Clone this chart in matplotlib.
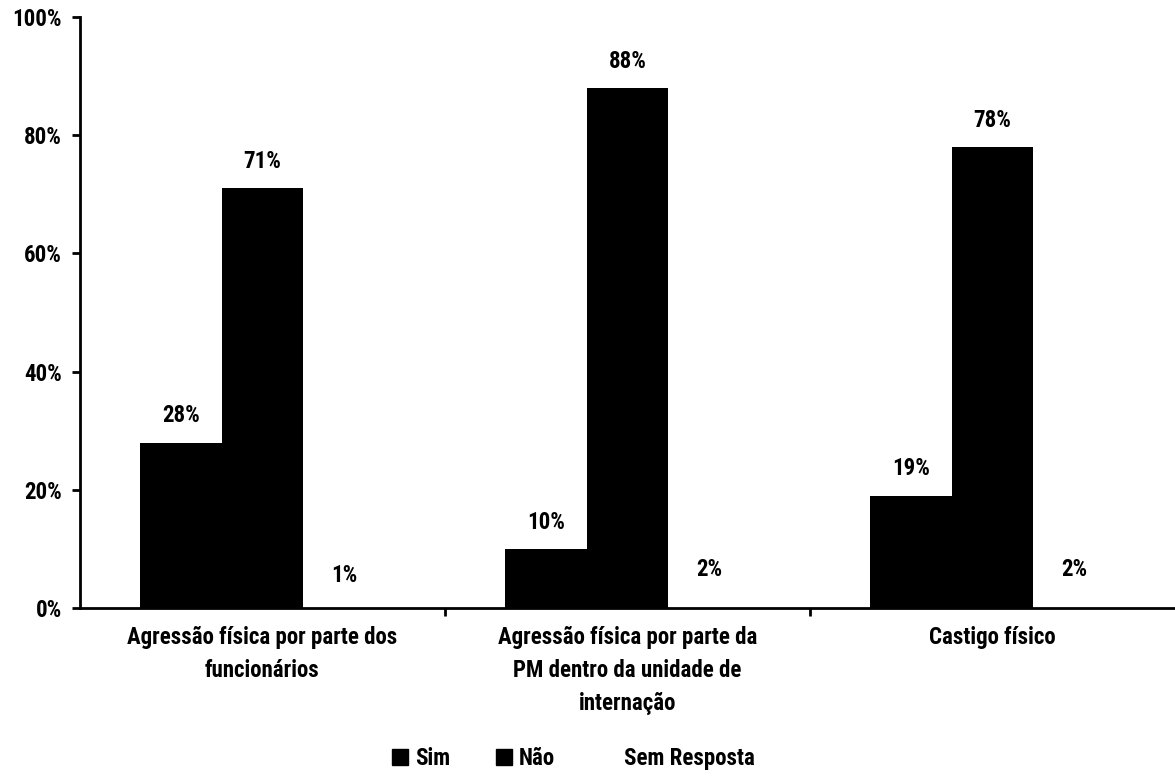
import matplotlib
matplotlib.use("Agg")
import matplotlib.pyplot as plt
from matplotlib.patches import Patch
import numpy as np

plt.rcParams['font.family'] = ['Roboto Condensed', 'DejaVu Sans']
plt.rcParams['font.weight'] = 'bold'

categories = ["Agressão física por parte dos\nfuncionários",
              "Agressão física por parte da\nPM dentro da unidade de\ninternação",
              "Castigo físico"]
series_names = ["Sim", "Não", "Sem Resposta"]
sim = [28, 10, 19]
nao = [71, 88, 78]
sem_resposta = [1, 2, 2]

fs = 16.5

fig = plt.figure(figsize=(11.75, 7.76), dpi=100)
ax = fig.add_axes([0.068, 0.2165, 0.932, 0.7615])

x = np.arange(len(categories))
w = 0.224
bars_sim = ax.bar(x - w, np.array(sim) / 100, w, color="black", label="Sim")
bars_nao = ax.bar(x, np.array(nao) / 100, w, color="black", label="Não")
bars_sem = ax.bar(x + w, np.array(sem_resposta) / 100, w, color="white", label="Sem Resposta")

for bars, vals in [(bars_sim, sim), (bars_nao, nao), (bars_sem, sem_resposta)]:
    for p, v in zip(bars.patches, vals):
        ax.annotate(f"{v}%", (p.get_x() + p.get_width() / 2, p.get_height()),
                    xytext=(0, 11), textcoords="offset points",
                    ha="center", va="bottom", fontsize=fs, fontweight="bold")

ax.set_xlim(-0.5, 2.5)
ax.set_ylim(0, 1)
ax.set_yticks([0, 0.2, 0.4, 0.6, 0.8, 1.0])
ax.set_yticklabels(["0%", "20%", "40%", "60%", "80%", "100%"], fontsize=fs, fontweight="bold")
ax.set_xticks([0.5, 1.5])
ax.set_xticklabels([])
ax.set_xticks(x, minor=True)
ax.set_xticklabels(categories, minor=True, fontsize=fs, fontweight="bold", linespacing=1.55)
ax.tick_params(axis="x", which="minor", length=0, pad=13)
ax.tick_params(axis="x", which="major", length=6, width=2, direction="out")
ax.tick_params(axis="y", length=6, width=2, direction="out", pad=7)

for s in ["top", "right"]:
    ax.spines[s].set_visible(False)
for s in ["left", "bottom"]:
    ax.spines[s].set_linewidth(2)

legend_elements = [Patch(facecolor="black", edgecolor="black", label="Sim"),
                   Patch(facecolor="black", edgecolor="black", label="Não"),
                   Patch(facecolor="white", edgecolor="white", label="Sem Resposta")]
fig.legend(handles=legend_elements, loc="center", bbox_to_anchor=(0.488, 0.022),
           ncol=3, frameon=False, fontsize=fs, handlelength=0.7, handleheight=0.7,
           handletextpad=0.3, columnspacing=2.0)

fig.savefig("out.png", dpi=100)
